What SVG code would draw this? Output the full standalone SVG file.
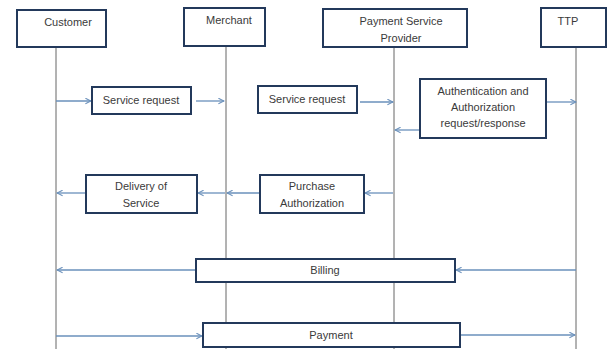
<svg xmlns="http://www.w3.org/2000/svg" width="613" height="349" viewBox="0 0 613 349">
<defs>
<style>
.box{fill:#fff;stroke:#23395b;stroke-width:2}
.life{stroke:#666;stroke-width:1;fill:none}
.arr{stroke:#6a90bb;stroke-width:1.3;fill:none;marker-end:url(#ah)}
text{font-family:"Liberation Sans",Arial,sans-serif;font-size:11px;fill:#3a3a3a;text-anchor:middle}
</style>
<marker id="ah" viewBox="0 0 10 10" refX="9" refY="5" markerWidth="7" markerHeight="7" markerUnits="userSpaceOnUse" orient="auto">
<polyline points="1,1 9,5 1,9" fill="none" stroke="#6a90bb" stroke-width="1.5"/>
</marker>
</defs>
<rect width="613" height="349" fill="#fff"/>
<g id="lifelines">
<line class="life" x1="56" y1="47" x2="56" y2="349"/>
<line class="life" x1="226" y1="46" x2="226" y2="349"/>
<line class="life" x1="394" y1="47" x2="394" y2="349"/>
<line class="life" x1="576" y1="47" x2="576" y2="349"/>
</g>
<g id="connectors">
<line class="arr" x1="56" y1="101" x2="91" y2="101"/>
<line class="arr" x1="196" y1="101" x2="224" y2="101"/>
<line class="arr" x1="360" y1="102" x2="393" y2="102"/>
<line class="arr" x1="546" y1="102" x2="576" y2="102"/>
<line class="arr" x1="420" y1="130" x2="395" y2="130"/>
<line class="arr" x1="86" y1="193" x2="57" y2="193"/>
<line class="arr" x1="225" y1="193" x2="198" y2="193"/>
<line class="arr" x1="260" y1="193" x2="227" y2="193"/>
<line class="arr" x1="393" y1="193" x2="365" y2="193"/>
<line class="arr" x1="196" y1="270" x2="57" y2="270"/>
<line class="arr" x1="576" y1="270" x2="456" y2="270"/>
<line class="arr" x1="56" y1="336" x2="202" y2="336"/>
<line class="arr" x1="461" y1="335" x2="575" y2="335"/>
</g>
<g id="customer"><rect class="box" x="17" y="10" width="89" height="37"/><text x="68" y="26">Customer</text></g>
<g id="merchant"><rect class="box" x="184" y="8" width="81" height="38"/><text x="229" y="24">Merchant</text></g>
<g id="psp"><rect class="box" x="323" y="9" width="144" height="38"/><text x="401" y="25">Payment Service</text><text x="401" y="42">Provider</text></g>
<g id="ttp"><rect class="box" x="541" y="8" width="65" height="39"/><text x="568" y="25">TTP</text></g>
<g id="service-request-1"><rect class="box" x="92" y="87" width="99" height="27"/><text x="141" y="104">Service request</text></g>
<g id="service-request-2"><rect class="box" x="258" y="86" width="99" height="27"/><text x="307" y="103">Service request</text></g>
<g id="auth"><rect class="box" x="420" y="79" width="126" height="59"/><text x="483" y="95">Authentication and</text><text x="483" y="111">Authorization</text><text x="483" y="127">request/response</text></g>
<g id="delivery"><rect class="box" x="86" y="175" width="111" height="38"/><text x="141" y="190">Delivery of</text><text x="141" y="207">Service</text></g>
<g id="purchase"><rect class="box" x="260" y="175" width="104" height="38"/><text x="312" y="190">Purchase</text><text x="312" y="207">Authorization</text></g>
<g id="billing"><rect class="box" x="196" y="259" width="259" height="23"/><text x="325" y="274">Billing</text></g>
<g id="payment"><rect class="box" x="203" y="323" width="257" height="24"/><text x="331" y="339">Payment</text></g>
</svg>
